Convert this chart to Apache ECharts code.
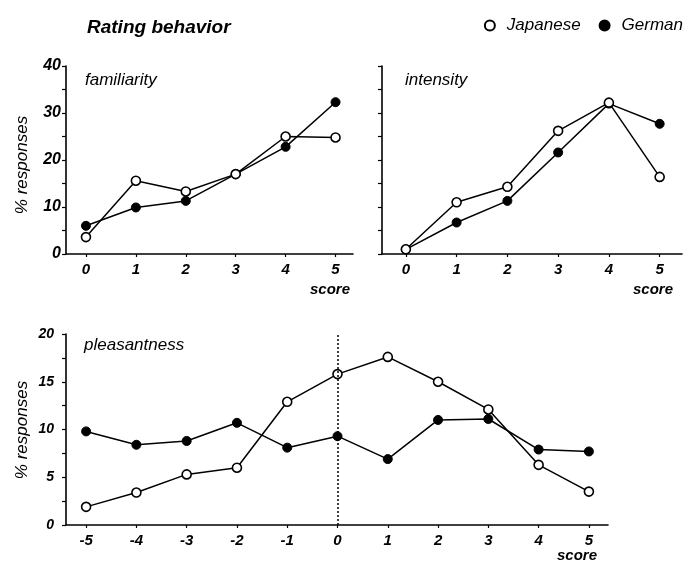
<!DOCTYPE html>
<html>
<head>
<meta charset="utf-8">
<script src="https://cdn.jsdelivr.net/npm/echarts@6/dist/echarts.min.js"></script>
<style>html,body{margin:0;padding:0;background:#fff;}#c{width:688px;height:565px;}</style>
</head>
<body>
<div id="c"></div>
<script>
const scoresTop = [0, 1, 2, 3, 4, 5];
const scoresPleas = [-5, -4, -3, -2, -1, 0, 1, 2, 3, 4, 5];
const famJapanese = [3.6, 15.6, 13.3, 17.0, 25.0, 24.8];
const famGerman = [6.0, 9.9, 11.3, 17.0, 22.8, 32.3];
const intJapanese = [1.0, 11.0, 14.3, 26.2, 32.2, 16.4];
const intGerman = [1.0, 6.7, 11.3, 21.6, 32.0, 27.7];
const pleJapanese = [1.9, 3.4, 5.3, 6.0, 12.9, 15.8, 17.6, 15.0, 12.1, 6.3, 3.5];
const pleGerman = [9.8, 8.4, 8.8, 10.7, 8.1, 9.3, 6.9, 11.0, 11.1, 7.9, 7.7];
const yTicksTop = [0, 5, 10, 15, 20, 25, 30, 35, 40];
const yLabelsTop = [0, 10, 20, 30, 40];
const yTicksBottom = [0, 2.5, 5, 7.5, 10, 12.5, 15, 17.5, 20];
const yLabelsBottom = [0, 5, 10, 15, 20];

const FONT = '"Liberation Sans", Arial, Helvetica, sans-serif';
const zip = (xs, ys) => xs.map((x, i) => [x, ys[i]]);

const axisLine = { show: true, onZero: false, lineStyle: { color: '#000', width: 1.6 } };
const labelStyle = { color: '#000', fontFamily: FONT, fontStyle: 'italic', fontWeight: 'bold', fontSize: 15 };

function xAxis(gi, min, max, cats) {
  return {
    type: 'value', gridIndex: gi, min: min, max: max,
    axisLine: axisLine, splitLine: { show: false },
    axisTick: { show: true, inside: false, length: 3, customValues: cats, lineStyle: { color: '#000', width: 1.2 } },
    axisLabel: Object.assign({ customValues: cats, margin: 8 }, labelStyle)
  };
}
function yAxis(gi, max, ticks, labels, showLabels, margin, size) {
  return {
    type: 'value', gridIndex: gi, min: 0, max: max,
    axisLine: axisLine, splitLine: { show: false },
    axisTick: { show: true, inside: false, length: 4, customValues: ticks, lineStyle: { color: '#000', width: 1.2 } },
    axisLabel: Object.assign({}, labelStyle, { show: showLabels, customValues: labels, margin: margin, fontSize: size })
  };
}
function ser(name, xi, data, open, extra) {
  return Object.assign({
    name: name, type: 'line', xAxisIndex: xi, yAxisIndex: xi, data: data,
    symbol: 'circle', symbolSize: 9, z: open ? 3 : 2,
    lineStyle: { color: '#000', width: 1.5 },
    itemStyle: open ? { color: '#fff', borderColor: '#000', borderWidth: 1.6 } : { color: '#000', borderColor: '#000', borderWidth: 1 },
    emphasis: { disabled: true }, animation: false
  }, extra || {});
}
const txt = (x, y, s, font) => ({
  type: 'text', x: x, y: y,
  style: { text: s, fill: '#000', font: font + ' ' + FONT, textVerticalAlign: 'middle' }
});

const chart = echarts.init(document.getElementById('c'), null, { renderer: 'canvas' });
chart.setOption({
  backgroundColor: '#fff',
  animation: false,
  title: {
    text: 'Rating behavior', left: 87, top: 18, padding: 0,
    textStyle: { fontFamily: FONT, fontStyle: 'italic', fontWeight: 'bold', fontSize: 19, color: '#000' }
  },
  legend: {
    data: ['Japanese', 'German'], right: 5, top: 17, icon: 'circle',
    itemWidth: 10, itemHeight: 10, itemGap: 18, padding: 0,
    textStyle: { fontFamily: FONT, fontStyle: 'italic', fontSize: 17, color: '#000', padding: [0, 0, 0, 7] },
    selectedMode: false
  },
  grid: [
    { left: 66, top: 66, width: 287, height: 188 },
    { left: 382, top: 66, width: 300, height: 188 },
    { left: 66, top: 334, width: 542, height: 191 }
  ],
  xAxis: [
    xAxis(0, -0.4, 5.35, scoresTop),
    xAxis(1, -0.47, 5.44, scoresTop),
    xAxis(2, -5.4, 5.38, scoresPleas)
  ],
  yAxis: [
    yAxis(0, 40, yTicksTop, yLabelsTop, true, 5, 16),
    yAxis(1, 40, yTicksTop, yLabelsTop, false, 5, 16),
    yAxis(2, 20, yTicksBottom, yLabelsBottom, true, 12, 14)
  ],
  series: [
    ser('German', 0, zip(scoresTop, famGerman), false),
    ser('Japanese', 0, zip(scoresTop, famJapanese), true),
    ser('German', 1, zip(scoresTop, intGerman), false),
    ser('Japanese', 1, zip(scoresTop, intJapanese), true),
    ser('German', 2, zip(scoresPleas, pleGerman), false, {
      markLine: {
        silent: true, symbol: 'none', label: { show: false },
        lineStyle: { color: '#000', type: [2, 2], width: 1.5 },
        data: [{ xAxis: 0 }]
      }
    }),
    ser('Japanese', 2, zip(scoresPleas, pleJapanese), true)
  ],
  graphic: [
    txt(85, 80, 'familiarity', 'italic 17px'),
    txt(405, 80, 'intensity', 'italic 17px'),
    txt(84, 345, 'pleasantness', 'italic 17px'),
    txt(310, 290, 'score', 'italic bold 15px'),
    txt(633, 290, 'score', 'italic bold 15px'),
    txt(557, 556, 'score', 'italic bold 15px'),
    { type: 'text', x: 22, y: 165, rotation: Math.PI / 2,
      style: { text: '% responses', fill: '#000', font: 'italic 17px ' + FONT, textAlign: 'center', textVerticalAlign: 'middle' } },
    { type: 'text', x: 22, y: 430, rotation: Math.PI / 2,
      style: { text: '% responses', fill: '#000', font: 'italic 17px ' + FONT, textAlign: 'center', textVerticalAlign: 'middle' } }
  ]
});
</script>
</body>
</html>
